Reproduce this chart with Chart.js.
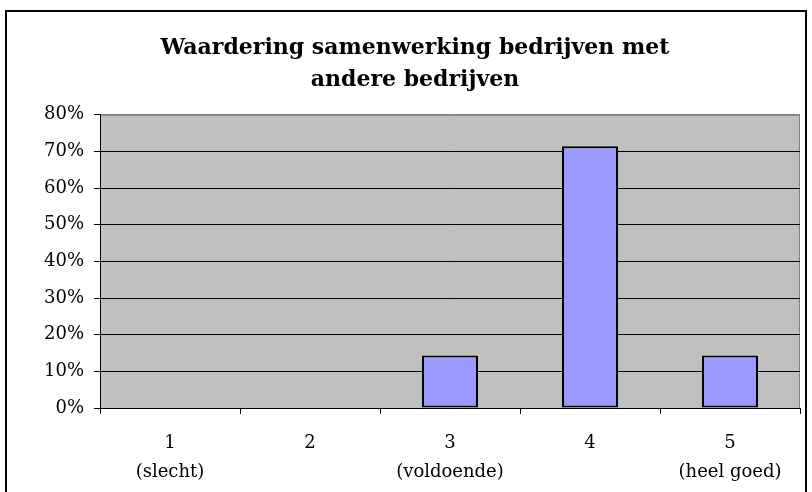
<!DOCTYPE html>
<html>
<head>
<meta charset="utf-8">
<script src="https://cdn.jsdelivr.net/npm/chart.js@4/dist/chart.umd.min.js"></script>
<style>
  body { margin: 0; background: #fff; }
  #wrap { position: relative; width: 812px; height: 492px; overflow: hidden; }
  #frame { position: absolute; left: 5px; top: 10px; width: 798px; height: 520px; border: 2px solid #000; }
  #myChart { position: absolute; left: 0; top: 0; }
</style>
</head>
<body>
<div id="wrap">
  <div id="frame"></div>
  <canvas id="myChart" width="812" height="492"></canvas>
</div>
<script>
// data
let categories = [["1", "(slecht)"], "2", ["3", "(voldoende)"], "4", ["5", "(heel goed)"]];
let percentages = [0, 0, 14.3, 71.4, 14.3];
let yTicks = [0, 10, 20, 30, 40, 50, 60, 70, 80];

let serif = "'DejaVu Serif', 'Liberation Serif', serif";

// grey plot area like the old excel charts
let plotBack = {
  id: 'plotBack',
  beforeDraw(chart) {
    let a = chart.chartArea, ctx = chart.ctx;
    ctx.save();
    ctx.fillStyle = '#C0C0C0';
    ctx.fillRect(a.left, a.top, a.right - a.left, a.bottom - a.top);
    ctx.strokeStyle = '#808080';
    ctx.lineWidth = 1;
    ctx.strokeRect(a.left + 0.5, a.top + 0.5, a.right - a.left - 1, a.bottom - a.top);
    ctx.restore();
  }
};

let charte = document.getElementById("myChart");
new Chart(charte, {
  type: 'bar',
  data: {
    labels: categories,
    datasets: [{
      label: "Waardering",
      data: percentages,
      backgroundColor: '#9999FF',
      borderColor: '#000',
      borderWidth: 2,
      borderSkipped: false,
      barPercentage: 0.4,
      categoryPercentage: 1
    }]
  },
  options: {
    responsive: false,
    animation: false,
    layout: { padding: { left: 30, right: 12, top: 0, bottom: 0 } },
    plugins: {
      legend: { display: false },
      tooltip: { enabled: false },
      title: {
        display: true,
        text: ["Waardering samenwerking bedrijven met", "andere bedrijven"],
        color: '#000',
        font: { family: serif, size: 22, weight: 'bold', lineHeight: 1.45 },
        padding: { top: 32, bottom: 19 }
      }
    },
    scales: {
      x: {
        grid: { display: true, drawOnChartArea: false, offset: true, color: '#000', tickLength: 6 },
        border: { color: '#000', width: 1 },
        ticks: { color: '#000', font: { family: serif, size: 18, lineHeight: 1.6 }, padding: 15, maxRotation: 0 },
        afterFit(scale) { scale.height = 84; }
      },
      y: {
        min: 0,
        max: 80,
        afterBuildTicks(scale) { scale.ticks = yTicks.map(v => ({ value: v })); },
        grid: {
          color: ctx => ctx.tick && ctx.tick.value === 80 ? '#808080' : '#000',
          tickColor: '#000',
          tickLength: 6
        },
        border: { color: '#000', width: 1 },
        ticks: { color: '#000', font: { family: serif, size: 18 }, padding: 10, callback: v => v + '%' },
        afterFit(scale) { scale.width = 70; }
      }
    }
  },
  plugins: [plotBack]
});
</script>
</body>
</html>
